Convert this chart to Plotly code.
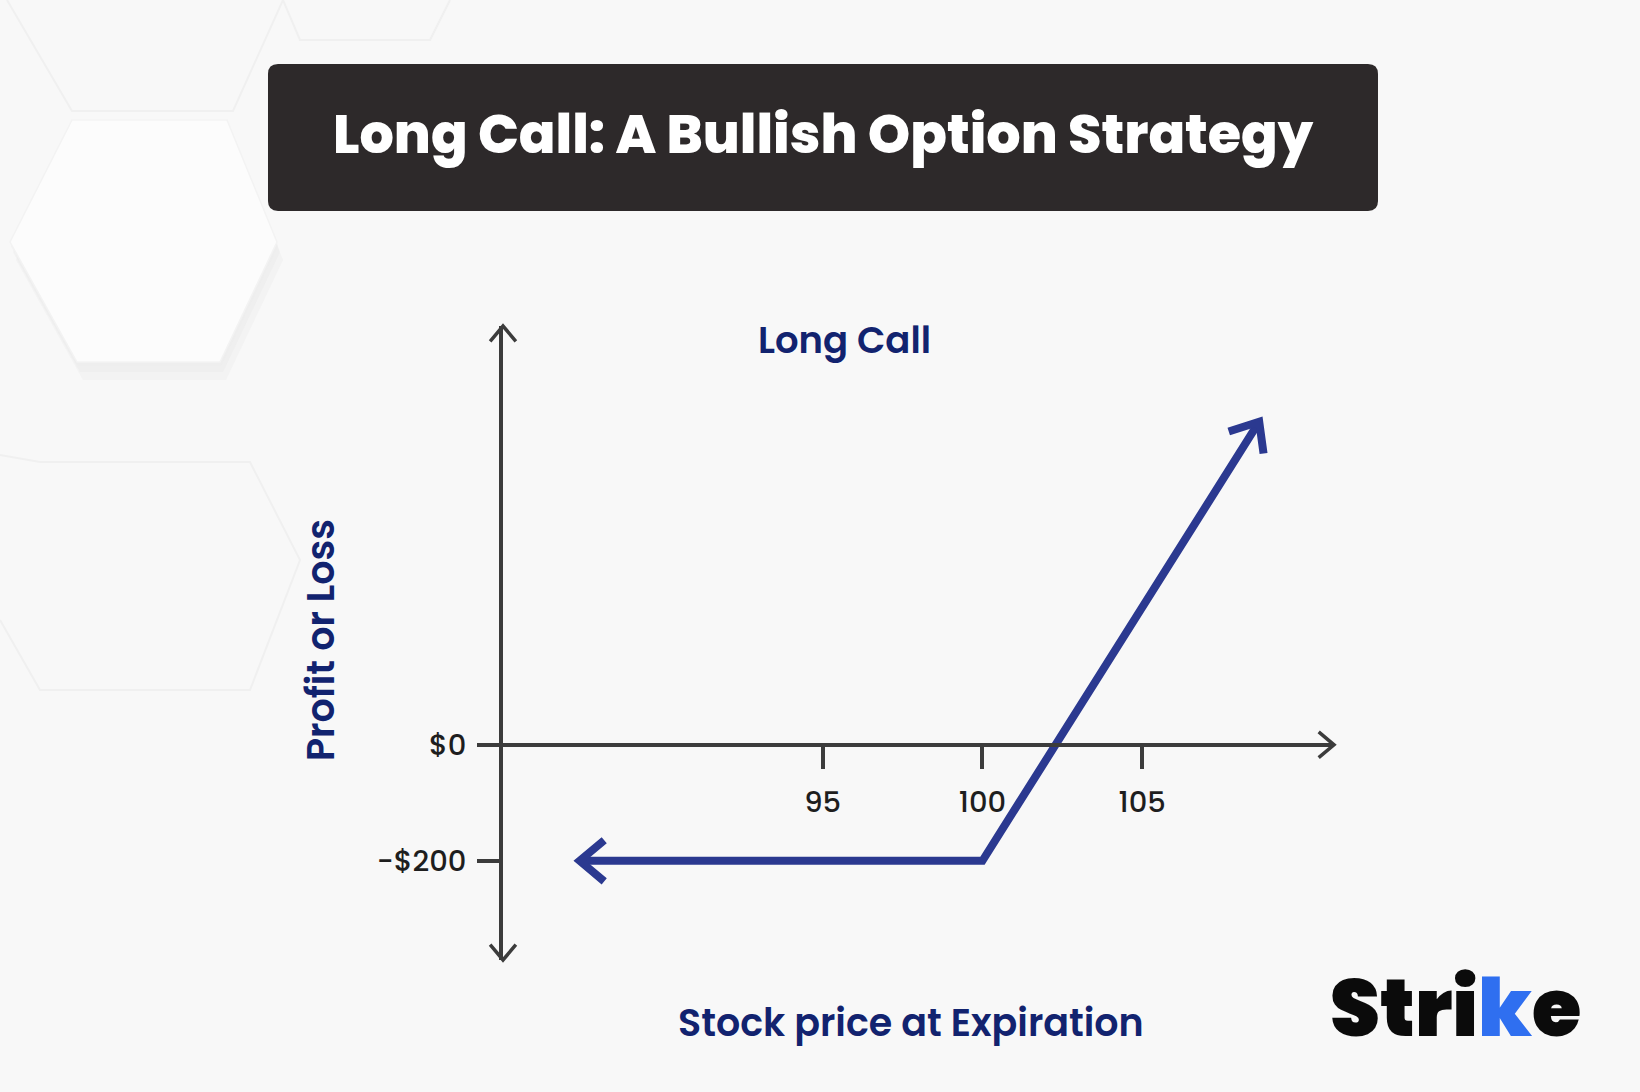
import math
import plotly.graph_objects as go

W, H = 1640, 1092

# ---------------- data ----------------
price = [87.4, 100, 108.66]          # stock price at expiration
pnl = [-200, -200, 557]              # profit / loss of the long call
x_ticks = [95, 100, 105]
x_tick_labels = ["95", "100", "105"]
y_ticks = [0, -200]
y_tick_labels = ["$0", "-$200"]
x_range = [85, 111]
y_range = [-371, 722]

# ---------------- layout geometry ----------------
PX0, PX1 = 503, 1334      # plot area left/right (px)
PY0, PY1 = 326, 960       # plot area top/bottom (px)
xdom = [PX0 / W, PX1 / W]
ydom = [1 - PY1 / H, 1 - PY0 / H]

kx = (PX1 - PX0) / (x_range[1] - x_range[0])
ky = (PY1 - PY0) / (y_range[1] - y_range[0])


def x2paper(x):
    return xdom[0] + (x - x_range[0]) / (x_range[1] - x_range[0]) * (xdom[1] - xdom[0])


def y2paper(y):
    return ydom[0] + (y - y_range[0]) / (y_range[1] - y_range[0]) * (ydom[1] - ydom[0])


def px(xp, yp):
    """pixel (top-left origin) -> paper"""
    return xp / W, 1 - yp / H


AXIS_C = "#3c3c3c"
LINE_C = "#2b3990"
NAVY = "#12236f"
FONT = "Poppins, Inter, 'Open Sans', sans-serif"


def chevron(xd, yd, dx, dy, L, theta_deg, color, width):
    n = math.hypot(dx, dy)
    bx, by = -dx / n, -dy / n
    t = math.radians(theta_deg)
    pts = []
    for s in (1, -1):
        c, si = math.cos(s * t), math.sin(s * t)
        pts.append((L * (bx * c - by * si), L * (bx * si + by * c)))
    path = f"M {pts[0][0]:.2f},{pts[0][1]:.2f} L 0,0 L {pts[1][0]:.2f},{pts[1][1]:.2f}"
    return dict(type="path", xref="paper", yref="paper",
                xsizemode="pixel", ysizemode="pixel",
                xanchor=x2paper(xd), yanchor=y2paper(yd), path=path,
                line=dict(color=color, width=width), fillcolor="rgba(0,0,0,0)",
                layer="above")


def rounded_rect(x0, y0, x1, y1, r):
    def P(a, b):
        u, v = px(a, b)
        return f"{u:.5f},{v:.5f}"
    d = (f"M {P(x0 + r, y0)} L {P(x1 - r, y0)} Q {P(x1, y0)} {P(x1, y0 + r)} "
         f"L {P(x1, y1 - r)} Q {P(x1, y1)} {P(x1 - r, y1)} L {P(x0 + r, y1)} "
         f"Q {P(x0, y1)} {P(x0, y1 - r)} L {P(x0, y0 + r)} Q {P(x0, y0)} {P(x0 + r, y0)} Z")
    return d


def poly(points, close=True):
    s = []
    for i, (a, b) in enumerate(points):
        u, v = px(a, b)
        s.append(("M " if i == 0 else "L ") + f"{u:.5f},{v:.5f}")
    return " ".join(s) + (" Z" if close else "")


def hexagon(dx=0, dy=0):
    pts = [(72, 120), (227, 120), (277, 242), (220, 362), (77, 362), (10, 242)]
    return [(a + dx, b + dy) for a, b in pts]


fig = go.Figure()
fig.add_trace(go.Scatter(
    x=price, y=pnl, mode="lines",
    line=dict(color=LINE_C, width=8),
    hoverinfo="skip", showlegend=False,
))

shapes = []
# background hexagon pattern (decorative)
for off, col, op in [((6, 18), "#e8e8e8", 0.3), ((3, 10), "#e9e9e9", 0.4), ((1, 4), "#ededed", 0.55)]:
    shapes.append(dict(type="path", xref="paper", yref="paper", layer="below",
                       path=poly(hexagon(*off)), fillcolor=col, line=dict(width=0), opacity=op))
shapes.append(dict(type="path", xref="paper", yref="paper", layer="below",
                   path=poly(hexagon()), fillcolor="#fcfcfc", line=dict(color="#f3f3f3", width=1.5)))
# faint outlines of neighbouring hexagons
for pts in [
    [(7, 0), (72, 111), (233, 111), (283, 0)],
    [(0, 455), (40, 462), (250, 462), (300, 560), (250, 690), (40, 690), (0, 620)],
    [(283, 0), (300, 40), (430, 40), (450, 0)],
]:
    shapes.append(dict(type="path", xref="paper", yref="paper", layer="below",
                       path=poly(pts, close=False), fillcolor="rgba(0,0,0,0)",
                       line=dict(color="#f0f0f0", width=2)))

# title box
shapes.append(dict(type="path", xref="paper", yref="paper", layer="below",
                   path=rounded_rect(268, 64, 1378, 211, 10),
                   fillcolor="#2d292a", line=dict(width=0)))

# axis arrow heads
shapes.append(chevron(x_range[1], 0, 1, 0, 20, 40, AXIS_C, 3.5))
shapes.append(chevron(x_range[0], y_range[1], 0, 1, 20, 40, AXIS_C, 3.5))
shapes.append(chevron(x_range[0], y_range[0], 0, -1, 20, 40, AXIS_C, 3.5))

# payoff line arrow heads
shapes.append(chevron(price[0], pnl[0], (price[0] - price[1]) * kx, (pnl[0] - pnl[1]) * ky,
                      32, 40, LINE_C, 8))
shapes.append(chevron(price[2], pnl[2], (price[2] - price[1]) * kx, (pnl[2] - pnl[1]) * ky,
                      32, 40, LINE_C, 8))

annotations = []
tx, ty = px(823, 134)
annotations.append(dict(x=tx, y=ty, xref="paper", yref="paper", xanchor="center", yanchor="middle",
                        text="Long Call: A Bullish Option Strategy", showarrow=False,
                        font=dict(family=FONT, size=54, color="#ffffff", weight=800)))
sx, sy = px(844, 340)
annotations.append(dict(x=sx, y=sy, xref="paper", yref="paper", xanchor="center", yanchor="middle",
                        text="Long Call", showarrow=False,
                        font=dict(family=FONT, size=37, color=NAVY, weight=600)))
yx, yy = px(320, 640)
annotations.append(dict(x=yx, y=yy, xref="paper", yref="paper", xanchor="center", yanchor="middle",
                        text="Profit or Loss", showarrow=False, textangle=-90,
                        font=dict(family=FONT, size=38, color=NAVY, weight=600)))
xx, xy = px(911, 1022)
annotations.append(dict(x=xx, y=xy, xref="paper", yref="paper", xanchor="center", yanchor="middle",
                        text="Stock price at Expiration", showarrow=False,
                        font=dict(family=FONT, size=38, color=NAVY, weight=600)))
lx, ly = px(1455, 1008)
annotations.append(dict(x=lx, y=ly, xref="paper", yref="paper", xanchor="center", yanchor="middle",
                        text="Stri<span style='color:#2f6ff0'>k</span>e", showarrow=False,
                        font=dict(family=FONT, size=80, color="#0b0b0b", weight=900)))

fig.update_layout(
    width=W, height=H,
    margin=dict(l=0, r=0, t=0, b=0),
    paper_bgcolor="#f8f8f8",
    plot_bgcolor="rgba(0,0,0,0)",
    template="none",
    showlegend=False,
    shapes=shapes,
    annotations=annotations,
    xaxis=dict(
        domain=xdom, range=x_range, anchor="free", position=y2paper(0),
        showline=True, linecolor=AXIS_C, linewidth=3.5,
        ticks="outside", ticklen=22, tickwidth=3.5, tickcolor=AXIS_C,
        tickvals=x_ticks, ticktext=x_tick_labels,
        tickfont=dict(family=FONT, size=29, color="#1e1e1e", weight=500),
        ticklabelstandoff=9,
        showgrid=False, zeroline=False, automargin=False, fixedrange=True,
    ),
    yaxis=dict(
        domain=ydom, range=y_range, anchor="x",
        showline=True, linecolor=AXIS_C, linewidth=3.5,
        ticks="outside", ticklen=22, tickwidth=3.5, tickcolor=AXIS_C,
        tickvals=y_ticks, ticktext=y_tick_labels,
        tickfont=dict(family=FONT, size=29, color="#1e1e1e", weight=500),
        ticklabelstandoff=5,
        showgrid=False, zeroline=False, automargin=False, fixedrange=True,
    ),
)

fig.write_html("out.html", config={"displayModeBar": False},
               post_script="document.body.style.margin='0';")
